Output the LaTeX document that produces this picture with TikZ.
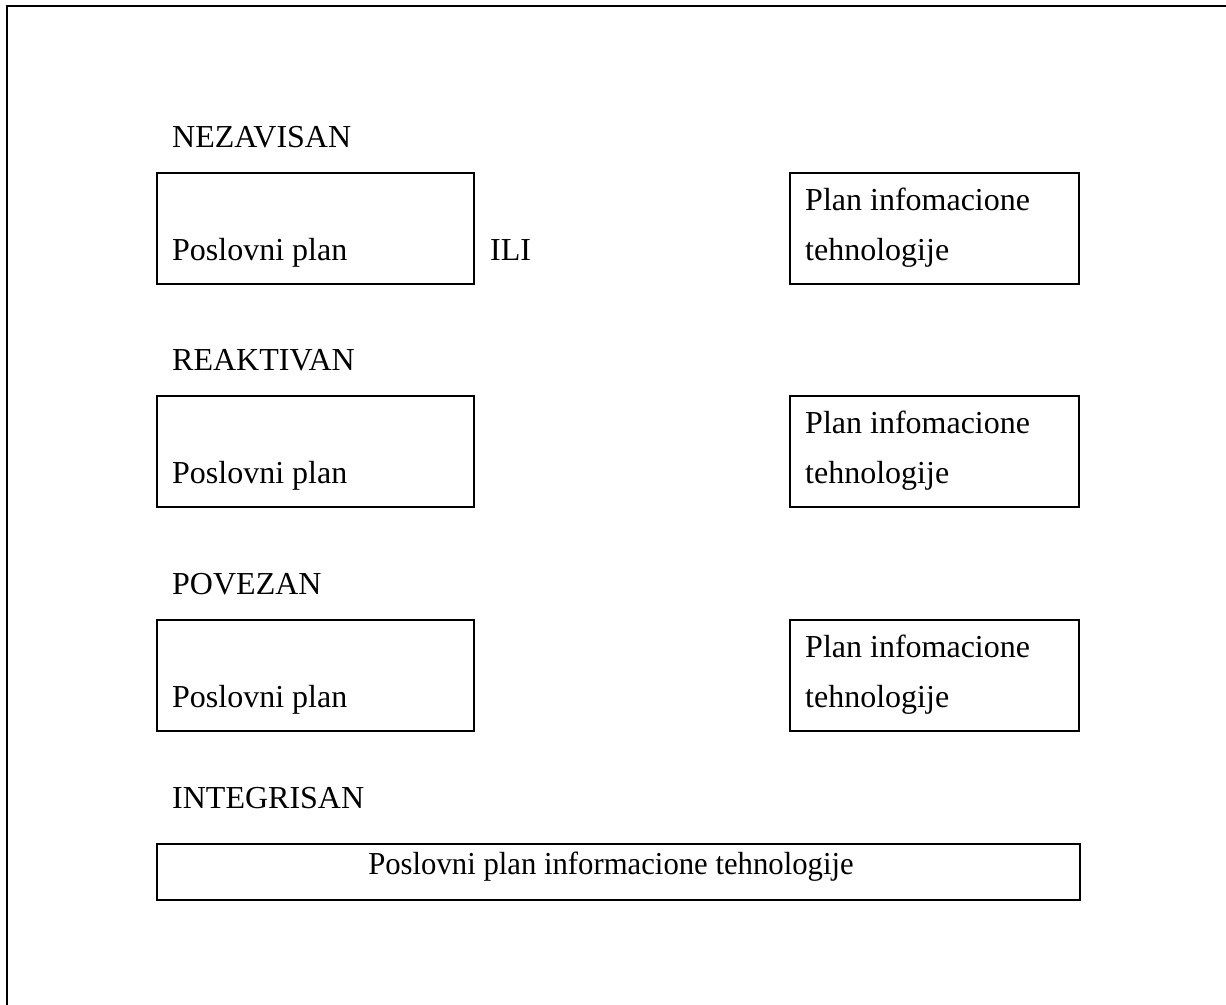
\documentclass[tikz,border=0pt]{standalone}
\usepackage{fontspec}
\setmainfont{Liberation Serif}
\begin{document}
\begin{tikzpicture}[x=1pt,y=-1pt,
  panel/.style={draw, line width=2.2pt, anchor=north west, inner sep=0pt, outer sep=0pt},
  leftpanel/.style={panel, minimum width=317pt, minimum height=111pt},
  rightpanel/.style={panel, minimum width=289pt, minimum height=111pt},
  txt/.style={anchor=base west, inner sep=0pt, font=\fontsize{32}{38}\selectfont}]
\useasboundingbox (0,0) rectangle (1226,1004);
% open outer frame (left and top sides)
\coordinate (frameBL) at (7,1010);
\coordinate (frameTL) at (7,6);
\coordinate (frameTR) at (1232,6);
\draw[line width=2.4pt] (frameBL) -- (frameTL) -- (frameTR);

% independent
\node[txt] (h1) at (172,147) {NEZAVISAN};
\node[leftpanel] (b1) at (157,173) {};
\node[txt] (t1) at (172,260) {Poslovni plan};
\node[txt] (ili) at (490,260) {ILI};
\node[rightpanel] (r1) at (790,173) {};
\node[txt] (r1a) at (805,210) {Plan infomacione};
\node[txt] (r1b) at (805,260) {tehnologije};

% reactive
\node[txt] (h2) at (172,370) {REAKTIVAN};
\node[leftpanel] (b2) at (157,396) {};
\node[txt] (t2) at (172,483) {Poslovni plan};
\node[rightpanel] (r2) at (790,396) {};
\node[txt] (r2a) at (805,433) {Plan infomacione};
\node[txt] (r2b) at (805,483) {tehnologije};

% linked
\node[txt] (h3) at (172,594) {POVEZAN};
\node[leftpanel] (b3) at (157,620) {};
\node[txt] (t3) at (172,707) {Poslovni plan};
\node[rightpanel] (r3) at (790,620) {};
\node[txt] (r3a) at (805,657) {Plan infomacione};
\node[txt] (r3b) at (805,707) {tehnologije};

% integrated
\node[txt] (h4) at (172,808) {INTEGRISAN};
\node[panel, minimum width=923pt, minimum height=56pt] (b4) at (157,844) {};
\node[txt, anchor=base, xscale=0.96] (t4) at (611,874) {Poslovni plan informacione tehnologije};
\end{tikzpicture}
\end{document}
